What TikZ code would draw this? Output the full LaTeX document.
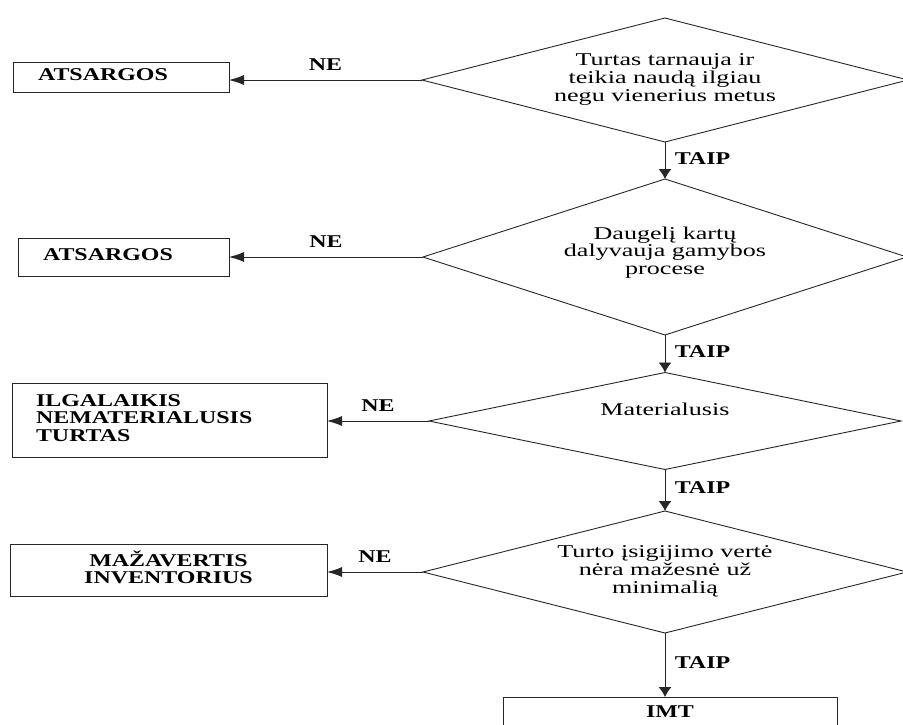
\documentclass[tikz,border=0pt]{standalone}
\usepackage{fontspec}
\setmainfont{Liberation Serif}
\usepackage{graphicx}
\usetikzlibrary{shapes.geometric,arrows.meta}
\newcommand{\wtxt}[2][c]{\scalebox{1.45}[1]{\begin{tabular}{@{}#1@{}}#2\end{tabular}}}
\newcommand{\btxt}[2][c]{\scalebox{1.33}[1]{\bfseries\begin{tabular}{@{}#1@{}}#2\end{tabular}}}

\begin{document}
\begin{tikzpicture}[x=1pt,y=-1pt,line width=0.9pt,
        font=\fontsize{18}{17.5}\selectfont,
        test/.style={diamond,draw=black!85,inner sep=0pt,outer sep=0pt},
        box/.style={rectangle,draw=black!85,inner sep=0pt,outer sep=0pt},
        lbox/.style={box,inner xsep=25pt,align=left},
        neline/.style={draw=black!85,-{Latex[length=15pt,width=10pt]}},
        taipline/.style={draw=black!85,-{Latex[length=10pt,width=13pt]}}]
\useasboundingbox (0,0) rectangle (903,724);

\node[test,minimum width=486pt,minimum height=124pt,shape aspect=3.9] (q1) at (665,80)
    {\wtxt{Turtas tarnauja ir\\teikia naudą ilgiau\\negu vienerius metus}};
\node[test,minimum width=484pt,minimum height=156pt,shape aspect=3.1] (q2) at (665,257)
    {\wtxt{Daugelį kartų\\dalyvauja gamybos\\procese\\[-10pt]\mbox{}}};
\node[test,minimum width=472pt,minimum height=97pt,shape aspect=4.9] (q3) at (665,421)
    {\wtxt{Materialusis\\\mbox{}}};
\node[test,minimum width=484pt,minimum height=122pt,shape aspect=3.9] (q4) at (665,572)
    {\wtxt{Turto įsigijimo vertė\\nėra mažesnė už\\minimalią}};

\node[lbox,text width=166pt,minimum height=30pt] (b1) at (121,77) {\btxt{ATSARGOS}};
\node[lbox,text width=161pt,minimum height=38pt] (b2) at (123.5,257) {\btxt{ATSARGOS}};
\node[lbox,minimum height=74pt,text width=267pt,inner xsep=24pt] (b3) at (169.5,420)
    {\btxt[l]{ILGALAIKIS\\NEMATERIALUSIS\\TURTAS}};
\node[box,minimum width=317pt,minimum height=52pt] (b4) at (168.5,570) {\btxt{MAŽAVERTIS\\INVENTORIUS}};
\node[box,minimum width=334pt,minimum height=34pt] (imt) at (670,714) {\btxt{IMT}};

\draw[neline] (q1.west) -- (q1.west -| b1.east) node[midway,above] {\btxt{NE}};
\draw[neline] (q2.west) -- (q2.west -| b2.east) node[midway,above] {\btxt{NE}};
\draw[neline] (q3.west) -- (q3.west -| b3.east) node[midway,above] {\btxt{NE}};
\draw[neline] (q4.west) -- (q4.west -| b4.east) node[midway,above] {\btxt{NE}};

\draw[taipline] (q1.south) -- (q2.north) node[midway,right,xshift=6pt] {\btxt{TAIP}};
\draw[taipline] (q2.south) -- (q3.north) node[midway,right,xshift=6pt] {\btxt{TAIP}};
\draw[taipline] (q3.south) -- (q4.north) node[midway,right,xshift=6pt] {\btxt{TAIP}};
\draw[taipline] (q4.south) -- (q4.south |- imt.north) node[midway,right,xshift=6pt] {\btxt{TAIP}};
\end{tikzpicture}
\end{document}
